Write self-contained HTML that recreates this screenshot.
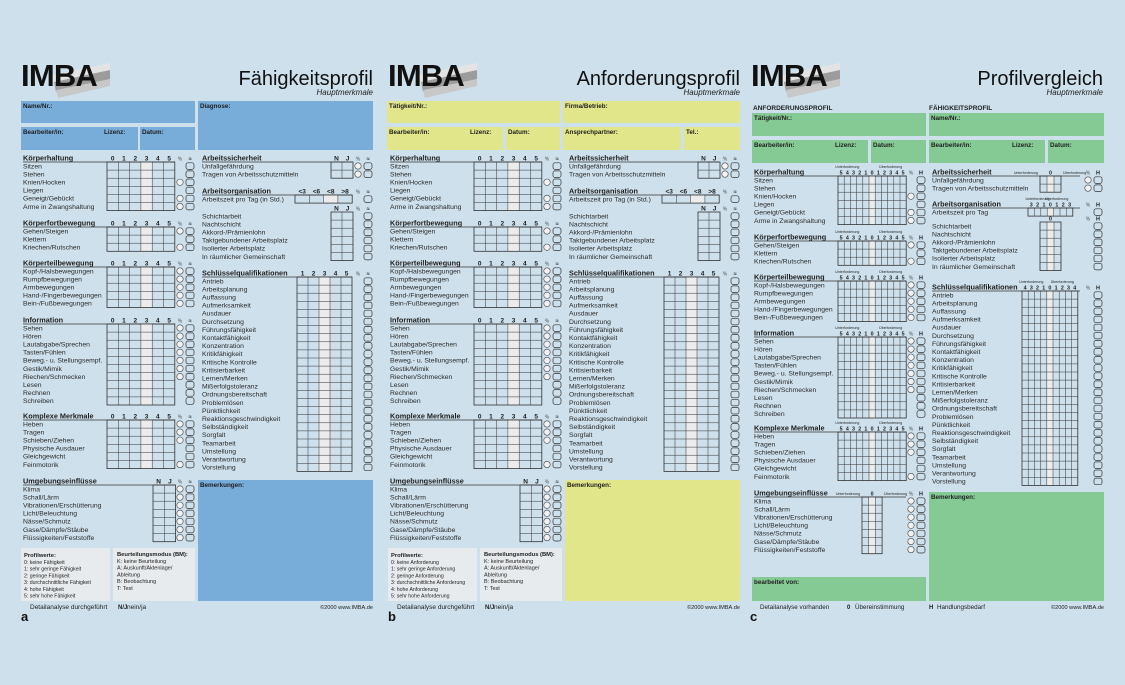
<!DOCTYPE html>
<html><head><meta charset="utf-8"><style>
html,body{margin:0;padding:0;background:#cde0ec;}
svg{display:block;font-family:"Liberation Sans",Arial,sans-serif;}
</style></head><body>
<svg id="s" width="1125" height="685" viewBox="0 0 1125 685" xmlns="http://www.w3.org/2000/svg"></svg>
<script>
const S=[];const RH=8.1;
function t(x,y,s,o){o=o||{};S.push(`<text x="${x}" y="${y}" font-size="${o.fs||7}"${o.b?' font-weight="bold"':''}${o.a?` text-anchor="${o.a}"`:''}${o.i?' font-style="italic"':''}${o.ls?` letter-spacing="${o.ls}"`:''} fill="${o.c||'#1e1e1e'}">${s}</text>`);}
function r(x,y,w,h,f,st,sw,rx){S.push(`<rect x="${x}" y="${y}" width="${w}" height="${h}" fill="${f||'none'}"${st?` stroke="${st}" stroke-width="${sw||0.7}"`:''}${rx?` rx="${rx}"`:''}/>`);}
function l(x1,y1,x2,y2,c,w){S.push(`<line x1="${x1}" y1="${y1}" x2="${x2}" y2="${y2}" stroke="${c||'#333'}" stroke-width="${w||0.6}"/>`);}
function grid(x,y,nc,cw,nr,shade){
  if(shade!=null)r(x+shade*cw,y,cw,nr*RH,'#ececec');
  for(let i=1;i<nc;i++)l(x+i*cw,y,x+i*cw,y+nr*RH,'#333',0.5);
  for(let j=1;j<nr;j++)l(x,y+j*RH,x+nc*cw,y+j*RH,'#333',0.5);
  r(x,y,nc*cw,nr*RH,null,'#333',0.8);
}
function box(x,y,w,h,f,label){r(x,y,w,h,f);if(label)t(x+2,y+7,label,{b:1,fs:6.3});}
function sec(o){
  const {lx,hc,title,ul,labels,gx,cw,ncol,shade,heads,circ,cx,bx,hfs,sub}=o;
  t(lx,hc+2.5,title,{b:1,fs:7.3});
  l(lx,hc+4,ul,hc+4,'#333',0.7);
  heads.forEach((h,i)=>t(gx+cw*(i+.5),hc+2.5,h,{b:1,fs:hfs||6.5,a:'middle'}));
  if(sub){t(gx+cw*1.5,hc-4,'Unterforderung',{fs:3.6,a:'middle'});t(gx+cw*(ncol-2.5),hc-4,'Überforderung',{fs:3.6,a:'middle'});}
  t(cx,hc+2.5,'%',{fs:5,a:'middle',c:'#555'});
  t(bx+4,hc+2.5,o.bm||'≈',{fs:5.5,a:'middle',b:1});
  const top=hc+4;
  labels.forEach((s,i)=>{t(lx,top+i*RH+6.3,s,{fs:6.8,c:'#2a2a2a'});
    if(circ==='all'||(circ&&circ.includes(i))){S.push(`<circle cx="${cx}" cy="${top+i*RH+4}" r="3.2" fill="#f2f2f2" stroke="#444" stroke-width="0.6"/>`);}
    r(bx,top+i*RH+0.8,8,6.6,null,'#333',0.7,2);
  });
  if(ncol)grid(gx,top,ncol,cw,labels.length,shade);
}
const KH=['Sitzen','Stehen','Knien/Hocken','Liegen','Geneigt/Gebückt','Arme in Zwangshaltung'];
const KF=['Gehen/Steigen','Klettern','Kriechen/Rutschen'];
const KT=['Kopf-/Halsbewegungen','Rumpfbewegungen','Armbewegungen','Hand-/Fingerbewegungen','Bein-/Fußbewegungen'];
const INF=['Sehen','Hören','Lautabgabe/Sprechen','Tasten/Fühlen','Beweg.- u. Stellungsempf.','Gestik/Mimik','Riechen/Schmecken','Lesen','Rechnen','Schreiben'];
const KM=['Heben','Tragen','Schieben/Ziehen','Physische Ausdauer','Gleichgewicht','Feinmotorik'];
const UE=['Klima','Schall/Lärm','Vibrationen/Erschütterung','Licht/Beleuchtung','Nässe/Schmutz','Gase/Dämpfe/Stäube','Flüssigkeiten/Feststoffe'];
const AS=['Unfallgefährdung','Tragen von Arbeitsschutzmitteln'];
const AO=['Schichtarbeit','Nachtschicht','Akkord-/Prämienlohn','Taktgebundener Arbeitsplatz','Isolierter Arbeitsplatz','In räumlicher Gemeinschaft'];
const SQ=['Antrieb','Arbeitsplanung','Auffassung','Aufmerksamkeit','Ausdauer','Durchsetzung','Führungsfähigkeit','Kontaktfähigkeit','Konzentration','Kritikfähigkeit','Kritische Kontrolle','Kritisierbarkeit','Lernen/Merken','Mißerfolgstoleranz','Ordnungsbereitschaft','Problemlösen','Pünktlichkeit','Reaktionsgeschwindigkeit','Selbständigkeit','Sorgfalt','Teamarbeit','Umstellung','Verantwortung','Vorstellung'];
function logo(x,title){
  S.push(`<polygon points="${x+30},75 ${x+88},63 ${x+88},72 ${x+32},84" fill="#e4e4e4"/>`);
  S.push(`<polygon points="${x+32},82 ${x+88},70 ${x+88},80 ${x+34},92" fill="#9c9c9c"/>`);
  S.push(`<polygon points="${x+34},90 ${x+88},79 ${x+88},86 ${x+36},98" fill="#c8c8c8"/>`);
  t(x-1,86,'IMBA',{b:1,fs:31,c:'#111',ls:-0.8});
  t(x+351,85,title,{fs:20,a:'end',c:'#111'});
  t(x+351,95,'Hauptmerkmale',{fs:8,i:1,a:'end'});
}
const H6=['0','1','2','3','4','5'];
function panelAB(dx,kind){
  const c=kind==='a'?'#78acd9':'#e2e68a';
  const X=v=>v+dx;
  logo(X(22),kind==='a'?'Fähigkeitsprofil':'Anforderungsprofil');
  if(kind==='a'){
    box(X(21),101,174,22,c,'Name/Nr.:');
    box(X(21),127,117,23,c,'Bearbeiter/in:');t(X(104),134,'Lizenz:',{b:1,fs:6.3});
    box(X(140),127,55,23,c,'Datum:');
    box(X(198),101,175,49,c,'Diagnose:');
  } else {
    box(X(20),101,173,22,c,'Tätigkeit/Nr.:');
    box(X(20),127,116,23,c,'Bearbeiter/in:');t(X(103),134,'Lizenz:',{b:1,fs:6.3});
    box(X(139),127,54,23,c,'Datum:');
    box(X(196),101,177,22,c,'Firma/Betrieb:');
    box(X(196),127,118,23,c,'Ansprechpartner:');
    box(X(317),127,56,23,c,'Tel.:');
  }
  const L={lx:X(23),ul:X(175),gx:X(107),cw:11.3,ncol:6,shade:3,heads:H6,cx:X(180),bx:X(186)};
  sec({...L,hc:158,title:'Körperhaltung',labels:KH,circ:[2,4,5]});
  sec({...L,hc:223,title:'Körperfortbewegung',labels:KF,circ:[0,2]});
  sec({...L,hc:263,title:'Körperteilbewegung',labels:KT,circ:'all'});
  sec({...L,hc:320,title:'Information',labels:INF,circ:[0,1,2,3,4,5,6]});
  sec({...L,hc:416,title:'Komplexe Merkmale',labels:KM,circ:[0,1,2,5]});
  sec({...L,hc:481,title:'Umgebungseinflüsse',labels:UE,circ:'all',gx:X(153),ncol:2,shade:null,heads:['N','J']});
  const R={lx:X(202),ul:X(352),cx:X(358),bx:X(364)};
  sec({...R,hc:158,title:'Arbeitssicherheit',labels:AS,circ:'all',gx:X(331),cw:11,ncol:2,shade:null,heads:['N','J']});
  sec({...R,hc:191,title:'Arbeitsorganisation',labels:['Arbeitszeit pro Tag (in Std.)'],circ:[],gx:X(295),cw:14.3,ncol:4,shade:2,heads:['<3','<6','<8','>8']});
  sec({...R,hc:208,title:'',labels:AO,circ:[],gx:X(331),cw:11,ncol:2,shade:null,heads:['N','J'],ul:X(202)});
  sec({...R,hc:273,title:'Schlüsselqualifikationen',labels:SQ,circ:[],gx:X(297),cw:11,ncol:5,shade:2,heads:['1','2','3','4','5']});
  box(X(198),480,175,121,c,'Bemerkungen:');
  r(X(21),548,89,53,'#e8ebed');r(X(113),548,82,53,'#e8ebed');
  t(X(24),557,'Profilwerte:',{b:1,fs:5.8});
  const pw=kind==='a'?['0: keine Fähigkeit','1: sehr geringe Fähigkeit','2: geringe Fähigkeit','3: durchschnittliche Fähigkeit','4: hohe Fähigkeit','5: sehr hohe Fähigkeit']:['0: keine Anforderung','1: sehr geringe Anforderung','2: geringe Anforderung','3: durchschnittliche Anforderung','4: hohe Anforderung','5: sehr hohe Anforderung'];
  pw.forEach((s,i)=>t(X(24),564+i*6.7,s,{fs:5.2}));
  t(X(117),556,'Beurteilungsmodus (BM):',{b:1,fs:5.8});
  ['K: keine Beurteilung','A: Auskunft/Aktenlage/','     Ableitung','B: Beobachtung','T: Test'].forEach((s,i)=>t(X(117),563+i*6.7,s,{fs:5.5}));
  t(X(30),609,'Detailanalyse durchgeführt',{fs:6.5});
  t(X(118),609,'N/J',{fs:6,b:1});t(X(127),609,'nein/ja',{fs:6.5});
  t(X(373),609,'©2000 www.IMBA.de',{fs:5.6,a:'end'});
  t(X(21),621,kind,{b:1,fs:13,c:'#111'});
}
panelAB(0,'a');panelAB(367,'b');
(function(){
  const g='#85c994';
  logo(752,'Profilvergleich');
  t(753,110,'ANFORDERUNGSPROFIL',{b:1,fs:6.5});t(929,110,'FÄHIGKEITSPROFIL',{b:1,fs:6.5});
  box(752,113,174,23,g,'Tätigkeit/Nr.:');
  box(752,140,116,23,g,'Bearbeiter/in:');t(835,147,'Lizenz:',{b:1,fs:6.3});
  box(871,140,55,23,g,'Datum:');
  box(929,113,175,23,g,'Name/Nr.:');
  box(929,140,116,23,g,'Bearbeiter/in:');t(1012,147,'Lizenz:',{b:1,fs:6.3});
  box(1048,140,56,23,g,'Datum:');
  const H11=['5','4','3','2','1','0','1','2','3','4','5'];
  const L={lx:754,ul:906,gx:838,cw:6.2,ncol:11,shade:5,heads:H11,hfs:5.3,sub:1,cx:911,bx:917,bm:'H'};
  sec({...L,hc:172,title:'Körperhaltung',labels:KH,circ:[2,4,5]});
  sec({...L,hc:237,title:'Körperfortbewegung',labels:KF,circ:[0,2]});
  sec({...L,hc:277,title:'Körperteilbewegung',labels:KT,circ:'all'});
  sec({...L,hc:333,title:'Information',labels:INF,circ:[0,1,2,3,4,5,6]});
  sec({...L,hc:428,title:'Komplexe Merkmale',labels:KM,circ:[0,1,2,5]});
  sec({...L,hc:493,title:'Umgebungseinflüsse',labels:UE,circ:'all',gx:862,cw:6.7,ncol:3,shade:1,heads:['','0',''],sub:0});
  t(860,495,'Unterforderung',{fs:3.6,a:'end'});t(884,495,'Überforderung',{fs:3.6});
  const R={lx:932,ul:1080,cx:1088,bx:1094,bm:'H',hfs:5.3};
  sec({...R,hc:172,title:'Arbeitssicherheit',labels:AS,circ:'all',gx:1040,cw:7,ncol:3,shade:1,heads:['','0','']});
  t(1038,174,'Unterforderung',{fs:3.6,a:'end'});t(1063,174,'Überforderung',{fs:3.6});
  sec({...R,hc:204,title:'Arbeitsorganisation',labels:['Arbeitszeit pro Tag'],circ:[],gx:1028,cw:6.4,ncol:7,shade:3,heads:['3','2','1','0','1','2','3'],sub:1});
  sec({...R,hc:218,title:'',labels:AO,circ:[],gx:1040,cw:7,ncol:3,shade:1,heads:['','0',''],ul:932});
  sec({...R,hc:287,title:'Schlüsselqualifikationen',labels:SQ,circ:[],gx:1022,cw:6.2,ncol:9,shade:4,heads:['4','3','2','1','0','1','2','3','4'],sub:1});
  box(929,492,175,109,g,'Bemerkungen:');
  box(752,577,174,24,g,'bearbeitet von:');
  t(760,609,'Detailanalyse vorhanden',{fs:6.3});
  t(847,609,'0',{fs:6,b:1});t(855,609,'Übereinstimmung',{fs:6.3});
  t(929,609,'H',{fs:6,b:1});t(937,609,'Handlungsbedarf',{fs:6.3});
  t(1104,609,'©2000 www.IMBA.de',{fs:5.6,a:'end'});
  t(750,621,'c',{b:1,fs:13,c:'#111'});
})();
document.getElementById('s').innerHTML=S.join('');
</script>
</body></html>
